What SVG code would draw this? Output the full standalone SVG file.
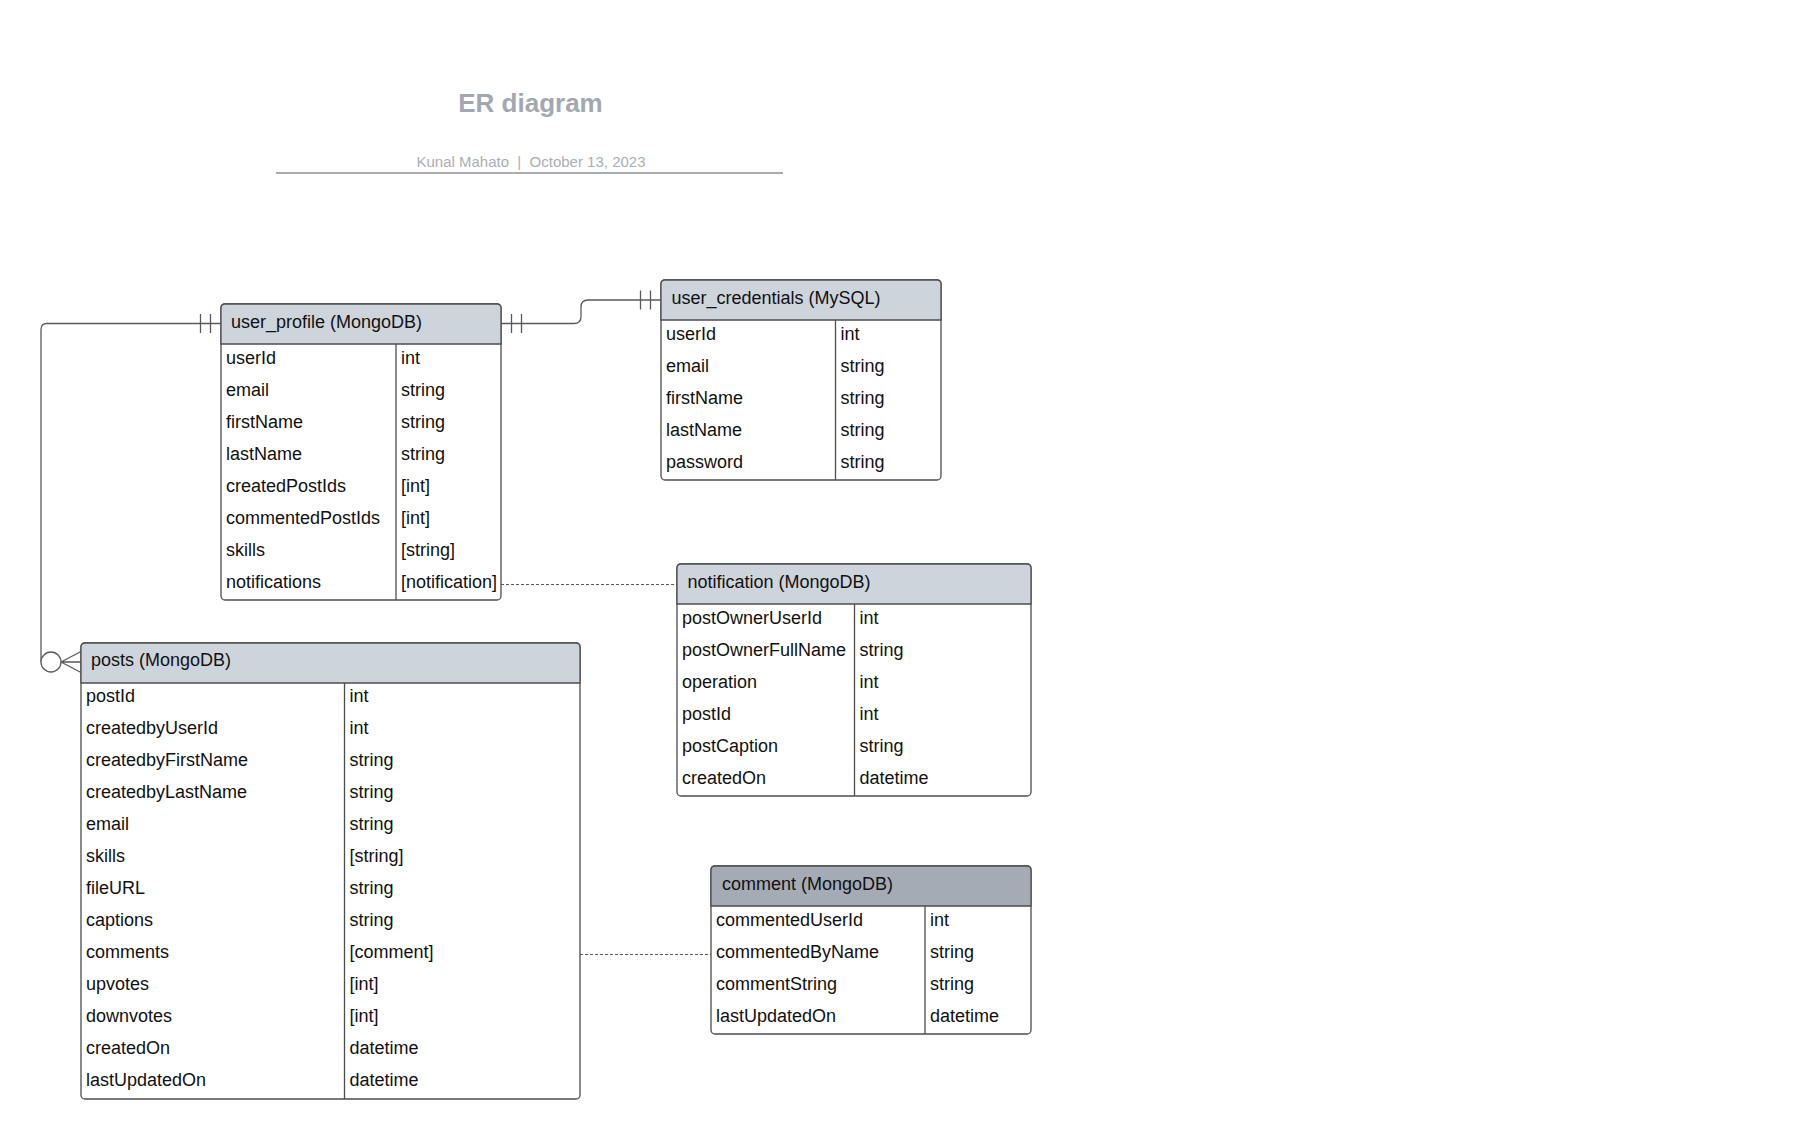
<svg xmlns="http://www.w3.org/2000/svg" width="1801" height="1138" viewBox="0 0 1801 1138">
<style>
.box{fill:#ffffff;stroke:#4d4d4d;stroke-width:1.3}
.hdr{fill:#ced4dc;stroke:#4d4d4d;stroke-width:1.3}
.hdr2{fill:#a5abb5;stroke:#4d4d4d;stroke-width:1.3}
.sep{stroke:#4d4d4d;stroke-width:1.3}
.t{font-family:"Liberation Sans",Arial,sans-serif;font-size:18px;fill:#111}
.conn{fill:none;stroke:#5a5a5a;stroke-width:1.3}
.dash{fill:none;stroke:#5a5a5a;stroke-width:1.2;stroke-dasharray:3 2}
.title{font-family:"Liberation Sans",Arial,sans-serif;font-size:26px;font-weight:bold;fill:#a3a8b0}
.sub{font-family:"Liberation Sans",Arial,sans-serif;font-size:15px;fill:#abaeb4}
</style>
<rect x="0" y="0" width="1801" height="1138" fill="#ffffff"/>
<g id="title">
<text class="title" x="530.5" y="112" text-anchor="middle">ER diagram</text>
<text class="sub" x="531" y="166.5" text-anchor="middle" xml:space="preserve">Kunal Mahato  |  October 13, 2023</text>
<line x1="276" y1="173" x2="783" y2="173" stroke="#a9acb2" stroke-width="2"/>
</g>
<g id="connectors">
<path class="conn" d="M221,323.5 H47 Q41,323.5 41,329.5 V662"/>
<line class="conn" x1="200.5" y1="314" x2="200.5" y2="333"/>
<line class="conn" x1="210.5" y1="314" x2="210.5" y2="333"/>
<circle cx="51" cy="662" r="10" fill="#ffffff" stroke="#5a5a5a" stroke-width="1.3"/>
<path class="conn" d="M61,662 H81 M61,662 L81,651.5 M61,662 L81,672.5"/>
<path class="conn" d="M501,323.5 H574 Q581,323.5 581,316.5 V307 Q581,300 588,300 H661"/>
<line class="conn" x1="511.5" y1="314" x2="511.5" y2="333"/>
<line class="conn" x1="521.5" y1="314" x2="521.5" y2="333"/>
<line class="conn" x1="640.5" y1="290.5" x2="640.5" y2="309.5"/>
<line class="conn" x1="650.5" y1="290.5" x2="650.5" y2="309.5"/>
<line class="dash" x1="501" y1="584.5" x2="677" y2="584.5"/>
<line class="dash" x1="580" y1="954.5" x2="711" y2="954.5"/>
</g>
<g id="user_profile">
<rect class="box" x="221" y="304" width="280" height="296" rx="4"/>
<path class="hdr" d="M221,344 V308 Q221,304 225,304 H497 Q501,304 501,308 V344 Z"/>
<line class="sep" x1="396" y1="344" x2="396" y2="600"/>
<text class="t" x="231" y="328">user_profile (MongoDB)</text>
<text class="t" x="226" y="363.5">userId</text><text class="t" x="401" y="363.5">int</text>
<text class="t" x="226" y="395.5">email</text><text class="t" x="401" y="395.5">string</text>
<text class="t" x="226" y="427.5">firstName</text><text class="t" x="401" y="427.5">string</text>
<text class="t" x="226" y="459.5">lastName</text><text class="t" x="401" y="459.5">string</text>
<text class="t" x="226" y="491.5">createdPostIds</text><text class="t" x="401" y="491.5">[int]</text>
<text class="t" x="226" y="523.5">commentedPostIds</text><text class="t" x="401" y="523.5">[int]</text>
<text class="t" x="226" y="555.5">skills</text><text class="t" x="401" y="555.5">[string]</text>
<text class="t" x="226" y="587.5">notifications</text><text class="t" x="401" y="587.5">[notification]</text>
</g>
<g id="user_credentials">
<rect class="box" x="661" y="280" width="280" height="200" rx="4"/>
<path class="hdr" d="M661,320 V284 Q661,280 665,280 H937 Q941,280 941,284 V320 Z"/>
<line class="sep" x1="835.5" y1="320" x2="835.5" y2="480"/>
<text class="t" x="671.5" y="304">user_credentials (MySQL)</text>
<text class="t" x="666" y="339.5">userId</text><text class="t" x="840.5" y="339.5">int</text>
<text class="t" x="666" y="371.5">email</text><text class="t" x="840.5" y="371.5">string</text>
<text class="t" x="666" y="403.5">firstName</text><text class="t" x="840.5" y="403.5">string</text>
<text class="t" x="666" y="435.5">lastName</text><text class="t" x="840.5" y="435.5">string</text>
<text class="t" x="666" y="467.5">password</text><text class="t" x="840.5" y="467.5">string</text>
</g>
<g id="notification">
<rect class="box" x="677" y="564" width="354" height="232" rx="4"/>
<path class="hdr" d="M677,604 V568 Q677,564 681,564 H1027 Q1031,564 1031,568 V604 Z"/>
<line class="sep" x1="854.5" y1="604" x2="854.5" y2="796"/>
<text class="t" x="687.5" y="588">notification (MongoDB)</text>
<text class="t" x="682" y="623.5">postOwnerUserId</text><text class="t" x="859.5" y="623.5">int</text>
<text class="t" x="682" y="655.5">postOwnerFullName</text><text class="t" x="859.5" y="655.5">string</text>
<text class="t" x="682" y="687.5">operation</text><text class="t" x="859.5" y="687.5">int</text>
<text class="t" x="682" y="719.5">postId</text><text class="t" x="859.5" y="719.5">int</text>
<text class="t" x="682" y="751.5">postCaption</text><text class="t" x="859.5" y="751.5">string</text>
<text class="t" x="682" y="783.5">createdOn</text><text class="t" x="859.5" y="783.5">datetime</text>
</g>
<g id="posts">
<rect class="box" x="81" y="643" width="499" height="456" rx="4"/>
<path class="hdr" d="M81,683 V647 Q81,643 85,643 H576 Q580,643 580,647 V683 Z"/>
<line class="sep" x1="344.5" y1="683" x2="344.5" y2="1099"/>
<text class="t" x="91" y="665.5">posts (MongoDB)</text>
<text class="t" x="86" y="701.5">postId</text><text class="t" x="349.5" y="701.5">int</text>
<text class="t" x="86" y="733.5">createdbyUserId</text><text class="t" x="349.5" y="733.5">int</text>
<text class="t" x="86" y="765.5">createdbyFirstName</text><text class="t" x="349.5" y="765.5">string</text>
<text class="t" x="86" y="797.5">createdbyLastName</text><text class="t" x="349.5" y="797.5">string</text>
<text class="t" x="86" y="829.5">email</text><text class="t" x="349.5" y="829.5">string</text>
<text class="t" x="86" y="861.5">skills</text><text class="t" x="349.5" y="861.5">[string]</text>
<text class="t" x="86" y="893.5">fileURL</text><text class="t" x="349.5" y="893.5">string</text>
<text class="t" x="86" y="925.5">captions</text><text class="t" x="349.5" y="925.5">string</text>
<text class="t" x="86" y="957.5">comments</text><text class="t" x="349.5" y="957.5">[comment]</text>
<text class="t" x="86" y="989.5">upvotes</text><text class="t" x="349.5" y="989.5">[int]</text>
<text class="t" x="86" y="1021.5">downvotes</text><text class="t" x="349.5" y="1021.5">[int]</text>
<text class="t" x="86" y="1053.5">createdOn</text><text class="t" x="349.5" y="1053.5">datetime</text>
<text class="t" x="86" y="1085.5">lastUpdatedOn</text><text class="t" x="349.5" y="1085.5">datetime</text>
</g>
<g id="comment">
<rect class="box" x="711" y="866" width="320" height="168" rx="4"/>
<path class="hdr2" d="M711,906 V870 Q711,866 715,866 H1027 Q1031,866 1031,870 V906 Z"/>
<line class="sep" x1="925" y1="906" x2="925" y2="1034"/>
<text class="t" x="722" y="889.5">comment (MongoDB)</text>
<text class="t" x="716" y="925.5">commentedUserId</text><text class="t" x="930" y="925.5">int</text>
<text class="t" x="716" y="957.5">commentedByName</text><text class="t" x="930" y="957.5">string</text>
<text class="t" x="716" y="989.5">commentString</text><text class="t" x="930" y="989.5">string</text>
<text class="t" x="716" y="1021.5">lastUpdatedOn</text><text class="t" x="930" y="1021.5">datetime</text>
</g>
</svg>
